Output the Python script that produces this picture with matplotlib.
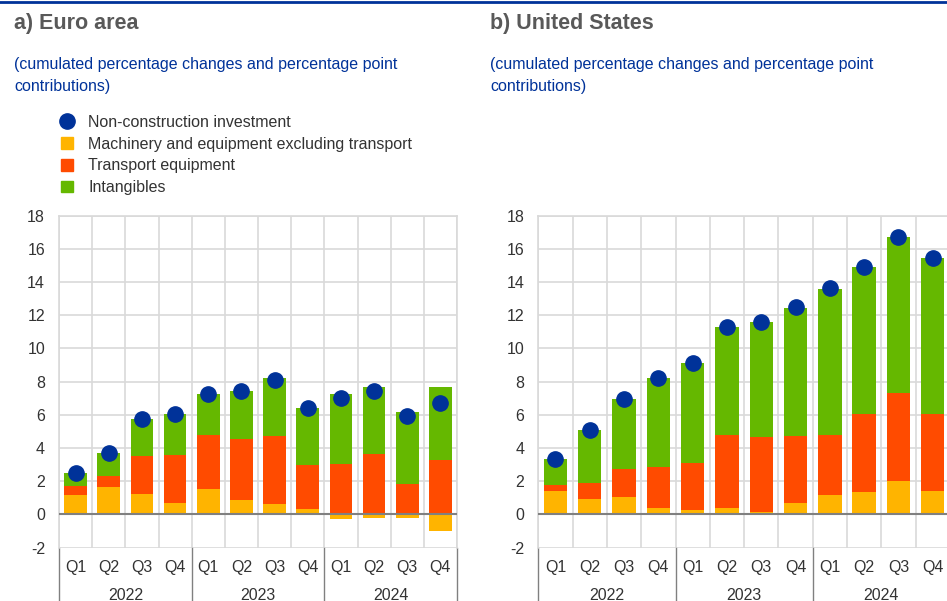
import numpy as np
import matplotlib
matplotlib.use("Agg")
import matplotlib.pyplot as plt
from matplotlib.lines import Line2D
from matplotlib.patches import Patch
from matplotlib.transforms import blended_transform_factory

plt.rcParams['font.family'] = ['Liberation Sans', 'DejaVu Sans']
plt.rcParams['axes.unicode_minus'] = False

quarters = ["Q1", "Q2", "Q3", "Q4"] * 3
years = ["2022", "2023", "2024"]

# euro area
ea_machinery = [1.16, 1.63, 1.24, 0.70, 1.55, 0.86, 0.62, 0.32, -0.30, -0.22, -0.22, -0.98]
ea_transport = [0.57, 0.70, 2.25, 2.87, 3.25, 3.66, 4.12, 2.63, 3.03, 3.65, 1.81, 3.27]
ea_intangibles = [0.74, 1.38, 2.25, 2.47, 2.47, 2.91, 3.45, 3.48, 4.24, 4.00, 4.37, 4.38]
ea_total = [2.47, 3.67, 5.72, 6.02, 7.25, 7.43, 8.11, 6.41, 7.03, 7.45, 5.94, 6.73]

# united states
us_machinery = [1.41, 0.92, 1.02, 0.40, 0.24, 0.40, 0.16, 0.70, 1.16, 1.33, 2.01, 1.41]
us_transport = [0.38, 0.95, 1.69, 2.47, 2.85, 4.40, 4.50, 4.04, 3.64, 4.71, 5.28, 4.63]
us_intangibles = [1.54, 3.23, 4.26, 5.32, 6.05, 6.49, 6.93, 7.71, 8.81, 8.88, 9.42, 9.42]
us_total = [3.31, 5.10, 6.95, 8.19, 9.14, 11.29, 11.59, 12.47, 13.63, 14.92, 16.73, 15.48]

c_dot = "#003299"
c_mach = "#FFB400"
c_trans = "#FF4B00"
c_intan = "#65B800"
grid_c = "#d9d9d9"
txt_c = "#333333"
fs = 11.5

W, H = 947, 601
fig = plt.figure(figsize=(W / 100, H / 100), dpi=100)

# top blue rule
fig.add_artist(Line2D([0, 1], [1 - 1.5 / H, 1 - 1.5 / H], color="#003299", lw=2))


def draw_panel(ax, mach, trans, intan, total):
    x = np.arange(12)
    mach = np.array(mach)
    trans = np.array(trans)
    intan = np.array(intan)
    pos_m = np.clip(mach, 0, None)
    neg_m = np.clip(mach, None, 0)
    w = 0.68
    ax.bar(x, pos_m, w, color=c_mach, zorder=3)
    ax.bar(x, neg_m, w, color=c_mach, zorder=3)
    ax.bar(x, trans, w, bottom=pos_m, color=c_trans, zorder=3)
    ax.bar(x, intan, w, bottom=pos_m + trans, color=c_intan, zorder=3)
    ax.plot(x, total, "o", color=c_dot, ms=11, zorder=4, clip_on=False)
    ax.axhline(0, color="#808080", lw=1.5, zorder=3.5)

    ax.set_xlim(-0.5, 11.5)
    ax.set_ylim(-2, 18)
    ax.set_yticks(np.arange(-2, 19, 2))
    ax.set_xticks(x)
    ax.set_xticklabels(quarters)
    ax.set_xticks(np.arange(-0.5, 12, 1), minor=True)
    ax.tick_params(axis="both", which="both", length=0, labelsize=fs, colors=txt_c)
    ax.tick_params(axis="x", pad=9)
    ax.tick_params(axis="y", pad=10)
    ax.grid(True, axis="y", which="major", color=grid_c, lw=1.2, zorder=0)
    ax.grid(True, axis="x", which="minor", color=grid_c, lw=1.2, zorder=0)
    ax.grid(False, axis="x", which="major")
    for s in ax.spines.values():
        s.set_color(grid_c)
        s.set_linewidth(1.2)
    ax.spines["bottom"].set_visible(False)

    # year separators and labels below the axis
    tr = blended_transform_factory(ax.transData, ax.transAxes)
    for b in [-0.5, 3.5, 7.5, 11.5]:
        ax.add_line(Line2D([b, b], [0, -0.2], transform=tr, color="#808080",
                           lw=1, clip_on=False))
    for i, yr in enumerate(years):
        ax.text(4 * i + 1.5, -0.145, yr, transform=tr, ha="center", va="center",
                fontsize=fs, color=txt_c)


ax1 = fig.add_axes([59 / W, 1 - 547.5 / H, 398 / W, 331.8 / H])
draw_panel(ax1, ea_machinery, ea_transport, ea_intangibles, ea_total)

ax2 = fig.add_axes([538.3 / W, 1 - 547.5 / H, 411.6 / W, 331.8 / H])
draw_panel(ax2, us_machinery, us_transport, us_intangibles, us_total)

# titles
fig.text(14 / W, 1 - 23 / H, "a) Euro area", fontsize=15.5, fontweight="bold",
         color="#595959", va="center", ha="left")
fig.text(490 / W, 1 - 23 / H, "b) United States", fontsize=15.5, fontweight="bold",
         color="#595959", va="center", ha="left")
for xp in [14, 490]:
    fig.text(xp / W, 1 - 65 / H, "(cumulated percentage changes and percentage point",
             fontsize=fs, color="#003299", va="center", ha="left")
    fig.text(xp / W, 1 - 86 / H, "contributions)",
             fontsize=fs, color="#003299", va="center", ha="left")

handles = [
    Line2D([], [], marker="o", ls="", color=c_dot, ms=11),
    Patch(color=c_mach),
    Patch(color=c_trans),
    Patch(color=c_intan),
]
labels = ["Non-construction investment",
          "Machinery and equipment excluding transport",
          "Transport equipment",
          "Intangibles"]
fig.legend(handles, labels, loc="upper left", bbox_to_anchor=(61 / W, 1 - 115 / H),
           frameon=False, fontsize=fs, labelspacing=0.42, handlelength=0.75,
           handleheight=0.75, handletextpad=0.95, borderpad=0, borderaxespad=0,
           labelcolor=txt_c)

fig.savefig("out.png", dpi=100)
